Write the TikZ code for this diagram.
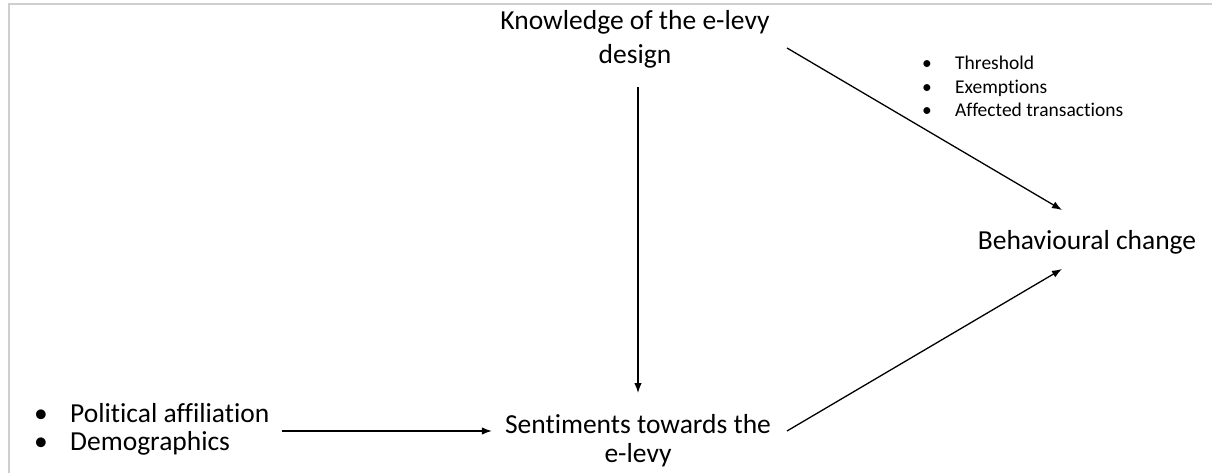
\documentclass[tikz,border=0pt]{standalone}
\usepackage{fontspec}
\setmainfont{Carlito}[Ligatures=NoCommon]
\usetikzlibrary{arrows.meta}
\definecolor{frame}{HTML}{CFCFCF}
\tikzset{
  big/.style={font=\fontsize{27.5}{34.5}\selectfont, align=center, inner sep=0pt, text=black},
  small/.style={font=\fontsize{19.5}{23.5}\selectfont, align=left, inner sep=0pt, text=black},
  arr/.style={line width=1.3pt, -{Latex[length=10pt,width=7.5pt]}},
  framelines/.style={line width=2pt, draw=frame}
}
\begin{document}
\begin{tikzpicture}[x=1pt,y=-1pt]
\useasboundingbox (0,0) rectangle (1212,473);
\draw[framelines] (8.5,473) -- (8.5,4.5) -- (1212,4.5);

\node[big] (know) at (635,39.5) {Knowledge of the e-levy\\design};
\node[big, font=\fontsize{27.5}{29}\selectfont] (sent) at (638,440.5) {Sentiments towards the\\e-levy};
\node[big] (beh) at (1087,242) {Behavioural change};
\node[big, font=\fontsize{27.5}{27.5}\selectfont, align=left, anchor=west] (pol) at (34,429.5)
  {\makebox[36pt][l]{\textbullet}Political affiliation\\\makebox[36pt][l]{\textbullet}Demographics};
\node[small, anchor=west] (design) at (922,86.5)
  {\makebox[33pt][l]{\textbullet}Threshold\\\makebox[33pt][l]{\textbullet}Exemptions\\\makebox[33pt][l]{\textbullet}Affected transactions};

\draw[arr] ([shift={(3,47.5)}]know.center) -- ([shift={(0,-47.5)}]sent.center);
\draw[arr] ([shift={(12,1.5)}]pol.east) -- ([shift={(-13,-9.5)}]sent.west);
\draw[arr] ([shift={(152,8.5)}]know.center) -- ([shift={(-25,-32)}]beh.center);
\draw[arr] ([shift={(149,-9.5)}]sent.center) -- ([shift={(-25,27)}]beh.center);
\end{tikzpicture}
\end{document}
